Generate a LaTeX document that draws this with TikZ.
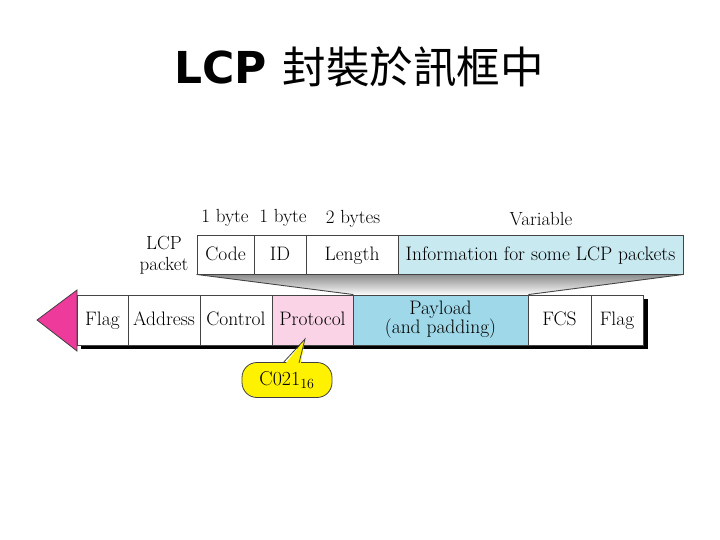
\documentclass[tikz,border=0pt]{standalone}
\usepackage{fontspec}
\newfontfamily\cjk{Noto Sans CJK TC}
\newfontfamily\titlefont{DejaVu Sans}
\definecolor{pinkfill}{HTML}{FAD4E6}
\definecolor{payloadfill}{HTML}{9FD8E8}
\definecolor{infofill}{HTML}{C9E9F1}
\definecolor{arrowmag}{HTML}{EE3A9B}
\definecolor{edgecol}{HTML}{444444}
\begin{document}
\begin{tikzpicture}[x=1pt,y=-1pt,
  fieldbase/.style={draw=edgecol, line width=0.9pt, inner sep=0pt, fill=white,
    font=\fontsize{19.5}{21}\selectfont, align=center},
  field/.style={fieldbase, text height=15pt, text depth=3.5pt},
  toprow/.style={field, minimum height=39},
  framerow/.style={field, minimum height=50},
  lbl/.style={inner sep=0pt, font=\fontsize{19}{21}\selectfont, align=center}]
\useasboundingbox (0,0) rectangle (720,540);

% title
\node[inner sep=0pt] (title) at (359,67)
  {{\titlefont\bfseries\fontsize{44}{48}\selectfont LCP}\hspace{16pt}{\cjk\fontsize{43.5}{48}\selectfont 封裝於訊框中}};

% size labels
\node[lbl] (b1) at (225,218) {1 byte};
\node[lbl] (b2) at (283,218) {1 byte};
\node[lbl] (b3) at (353,219) {2 bytes};
\node[lbl] (bv) at (541,219) {Variable};
\node[lbl] (lcplbl) at (164,255) {LCP\\packet};

% LCP packet row
\node[toprow, minimum width=57] (code) at (225.5,254.5) {Code};
\node[toprow, minimum width=52] (id) at (280,254.5) {ID};
\node[toprow, minimum width=92] (len) at (352,254.5) {Length};
\node[toprow, minimum width=285, fill=infofill] (info) at (540.5,254.5) {Information for some LCP packets};

% frame shadow
\fill[black] (81,299) rectangle (648,349);
% arrow head
\draw[fill=arrowmag, draw=black!75, line width=0.8pt] (37,320) -- (77,290) -- (77,351) -- cycle;

% frame row
\node[framerow, minimum width=51] (flag1) at (102.5,320) {Flag};
\node[framerow, minimum width=72] (addr) at (164,320) {Address};
\node[framerow, minimum width=72] (ctrl) at (236,320) {Control};
\node[framerow, minimum width=81, fill=pinkfill] (proto) at (312.5,320) {Protocol};
\node[fieldbase, minimum height=50, minimum width=175, fill=payloadfill] (payload) at (440.5,320) {Payload\\[-2pt](and padding)};
\node[framerow, minimum width=63] (fcs) at (559.5,320) {FCS};
\node[framerow, minimum width=52] (flag2) at (617,320) {Flag};

% expansion shading
\shade[top color=black!45, bottom color=black!2]
  (code.south west) -- (info.south east) -- (payload.north east) -- (proto.north east) -- cycle;
\draw[edgecol, line width=0.9pt] (code.south west) -- (proto.north east);
\draw[edgecol, line width=0.9pt] (info.south east) -- (payload.north east);
\draw[edgecol, line width=0.9pt] (code.south west) -- (info.south east);

% callout
\node[draw=black!75, fill=yellow, line width=0.8pt, rounded corners=15pt,
  minimum width=90, minimum height=35, inner sep=0pt,
  font=\fontsize{20}{22}\selectfont] (c021) at (287,380) {C021\textsubscript{16}};
\coordinate (tip) at (305,339);
\fill[yellow] (282,368) -- (tip) -- (300,368) -- cycle;
\draw[black!75, line width=0.8pt] (283,362.9) -- (tip) -- (299,362.9);
\end{tikzpicture}
\end{document}
